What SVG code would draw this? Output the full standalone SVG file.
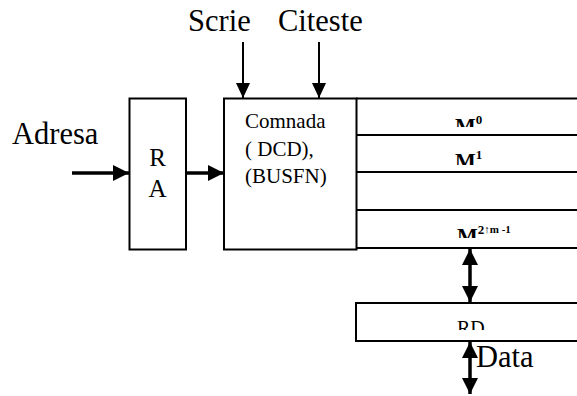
<svg xmlns="http://www.w3.org/2000/svg" width="577" height="396" viewBox="0 0 577 396">
<style>
text{font-family:"Liberation Serif","Times New Roman",Tinos,"DejaVu Serif",serif;fill:#000}
.big{font-size:30.5px}
.mid{font-size:21px}
.ra{font-size:25px}
.mem{font-weight:bold;font-size:22px}
.sup{font-size:13px}
.sup2{font-size:11px}
.box{fill:#fff;stroke:#000;stroke-width:2}
.line{stroke:#000;stroke-width:2;fill:none}
.thin{stroke:#000;stroke-width:2;fill:none}
.thick{stroke:#000;stroke-width:3.5;fill:none}
</style>
<defs>
<marker id="ah" markerUnits="userSpaceOnUse" markerWidth="16" markerHeight="16" viewBox="0 0 16 16" refX="16" refY="8" orient="auto-start-reverse">
<path d="M0,0 L16,8 L0,16 Z" fill="#000"/>
</marker>
<marker id="ahs" markerUnits="userSpaceOnUse" markerWidth="15" markerHeight="14" viewBox="0 0 15 14" refX="15" refY="7" orient="auto-start-reverse">
<path d="M0,0 L15,7 L0,14 Z" fill="#000"/>
</marker>
<clipPath id="c0"><rect x="440" y="100" width="80" height="27"/></clipPath>
<clipPath id="c1"><rect x="440" y="137" width="80" height="28"/></clipPath>
<clipPath id="c2"><rect x="440" y="212" width="100" height="26"/></clipPath>
<clipPath id="c3"><rect x="440" y="304" width="80" height="26"/></clipPath>
</defs>

<g id="labels">
<text class="big" x="188" y="31" font-family="Liberation Serif, serif">Scrie</text>
<text class="big" x="278" y="31" font-family="Liberation Serif, serif">Citeste</text>
<text class="big" x="12" y="144" font-family="Liberation Serif, serif">Adresa</text>
<text class="big" x="476" y="367" font-family="Liberation Serif, serif">Data</text>
</g>

<g id="RA">
<rect class="box" x="129.5" y="98.5" width="56.5" height="151"/>
<text class="ra" x="157.5" y="166" text-anchor="middle">R</text>
<text class="ra" x="157.5" y="197" text-anchor="middle">A</text>
</g>

<g id="Comnada">
<rect class="box" x="224" y="98.5" width="132.5" height="151"/>
<text class="mid" x="245" y="128">Comnada</text>
<text class="mid" x="245" y="155.5">( DCD),</text>
<text class="mid" x="245" y="183">(BUSFN)</text>
</g>

<g id="memory">
<line class="line" x1="356" y1="98.5" x2="577" y2="98.5"/>
<line class="line" x1="356" y1="135" x2="577" y2="135"/>
<line class="line" x1="356" y1="172" x2="577" y2="172"/>
<line class="line" x1="356" y1="210" x2="577" y2="210"/>
<line class="line" x1="356" y1="248" x2="577" y2="248"/>
<text class="mem" x="455" y="132.5" clip-path="url(#c0)">M<tspan class="sup" y="124">0</tspan></text>
<text class="mem" x="455" y="167.5" clip-path="url(#c1)">M<tspan class="sup" y="159">1</tspan></text>
<text class="mem" x="457" y="242.5" clip-path="url(#c2)">M<tspan class="sup" y="234">2</tspan><tspan class="sup2" y="233">↑m -1</tspan></text>
</g>

<g id="RD">
<rect class="box" x="356" y="303" width="230" height="38"/>
<text class="mid" x="457" y="335" clip-path="url(#c3)" style="font-size:20px">RD</text>
</g>

<g id="connectors">
<line class="thick" x1="72" y1="173" x2="129" y2="173" marker-end="url(#ah)"/>
<line class="thick" x1="186" y1="173" x2="224" y2="173" marker-end="url(#ah)"/>
<line class="thin" x1="243" y1="42" x2="243" y2="98" marker-end="url(#ahs)"/>
<line class="thin" x1="319" y1="42" x2="319" y2="98" marker-end="url(#ahs)"/>
<line class="thick" x1="470" y1="249" x2="470" y2="302" marker-start="url(#ah)" marker-end="url(#ah)"/>
<line class="thick" x1="470" y1="342" x2="470" y2="394" marker-start="url(#ah)" marker-end="url(#ah)"/>
</g>
</svg>
